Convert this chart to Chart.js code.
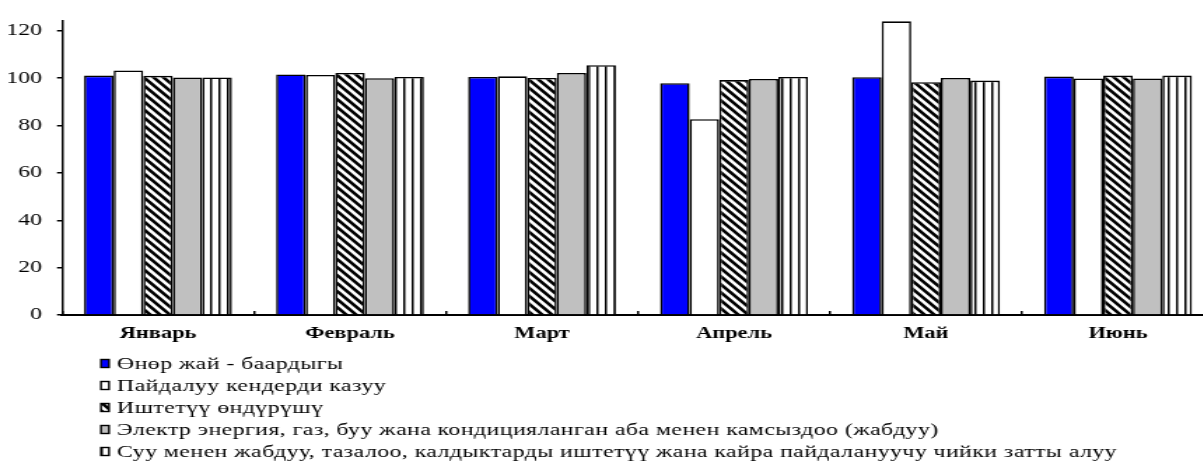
<!DOCTYPE html>
<html>
<head>
<meta charset="utf-8">
<script src="https://cdn.jsdelivr.net/npm/chart.js@4"></script>
<style>
  body { margin: 0; background: #fff; overflow: hidden; }
  #wrap { position: absolute; left: 0; top: 0; width: 870px; height: 464px;
          transform: scaleX(1.4); transform-origin: 0 0; }
</style>
</head>
<body>
<div id="wrap"><canvas id="chBar"></canvas></div>
<script>
// data
var months = ["Январь", "Февраль", "Март", "Апрель", "Май", "Июнь"];
var seriesNames = [
  "Өнөр жай - баардыгы",
  "Пайдалуу кендерди казуу",
  "Иштетүү өндүрүшү",
  "Электр энергия, газ, буу жана кондицияланган аба менен камсыздоо (жабдуу)",
  "Суу менен жабдуу, тазалоо, калдыктарды иштетүү жана кайра пайдалануучу чийки затты алуу"
];
var industryTotal = [101.1, 101.6, 100.5, 97.9, 100.4, 100.7];
var mining = [103.3, 101.4, 100.8, 82.7, 124.0, 99.9];
var manufacturing = [101.0, 102.2, 100.1, 99.2, 98.3, 101.1];
var electricity = [100.3, 100.0, 102.2, 99.7, 100.1, 99.9];
var water = [100.3, 100.5, 105.5, 100.5, 99.0, 101.1];
var yTicks = [0, 20, 40, 60, 80, 100, 120];

var SX = 1.4; // horizontal stretch of the whole picture
var serif = "'Liberation Serif', 'Times New Roman', serif";

// fill patterns
function hatchPattern() {
  var w = 7, h = 8;
  var c = document.createElement("canvas");
  c.width = w; c.height = h;
  var g = c.getContext("2d");
  g.fillStyle = "#fff"; g.fillRect(0, 0, w, h);
  g.strokeStyle = "#000"; g.lineWidth = 2.6;
  g.beginPath();
  g.moveTo(-w, -h); g.lineTo(2 * w, 2 * h);
  g.moveTo(-w, 0); g.lineTo(w, 2 * h);
  g.moveTo(0, -h); g.lineTo(2 * w, h);
  g.stroke();
  return g.createPattern(c, "repeat");
}
function stripePattern() {
  var c = document.createElement("canvas");
  c.width = 6; c.height = 4;
  var g = c.getContext("2d");
  g.fillStyle = "#fff"; g.fillRect(0, 0, 6, 4);
  g.fillStyle = "#000"; g.fillRect(0, 0, 1.5, 4);
  return g.createPattern(c, "repeat");
}

var fills = ["#0000ff", "#ffffff", hatchPattern(), "#c0c0c0", stripePattern()];
var values = [industryTotal, mining, manufacturing, electricity, water];

var datasets = values.map(function (v, i) {
  return {
    label: seriesNames[i],
    data: v,
    backgroundColor: fills[i],
    borderColor: "#000",
    borderWidth: 1.6
  };
});

// legend drawn as a plain list under the axis
var legendRows = [363.5, 385.5, 407.5, 429.5, 451.5];
var listLegend = {
  id: "listLegend",
  afterDraw: function (chart) {
    var ctx = chart.ctx;
    ctx.save();
    ctx.font = "17px " + serif;
    ctx.letterSpacing = "0.32px";
    ctx.textBaseline = "middle";
    chart.data.datasets.forEach(function (ds, i) {
      var cy = legendRows[i];
      var x = 101 / SX;
      ctx.fillStyle = ds.backgroundColor;
      ctx.fillRect(x, cy - 4, 8 / SX, 8);
      ctx.strokeStyle = "#000";
      ctx.lineWidth = 1.4;
      ctx.strokeRect(x, cy - 4, 8 / SX, 8);
      ctx.fillStyle = "#000";
      ctx.fillText(ds.label, 117 / SX, cy + 1);
    });
    ctx.restore();
  }
};

new Chart(document.getElementById("chBar"), {
  type: "bar",
  data: { labels: months, datasets: datasets },
  plugins: [listLegend],
  options: {
    responsive: true,
    maintainAspectRatio: false,
    animation: false,
    layout: { padding: { left: 0, right: 870 - 1214 / SX, top: 15, bottom: 109 } },
    datasets: { bar: { categoryPercentage: 0.77, barPercentage: 1.0 } },
    plugins: { legend: { display: false }, tooltip: { enabled: false } },
    scales: {
      x: {
        afterFit: function (s) { s.height = 40; },
        border: { color: "#000", width: 2 },
        grid: { drawOnChartArea: false, drawTicks: true, tickLength: -4, color: "#000", lineWidth: 1.5 },
        ticks: { color: "#000", padding: 13, font: { family: serif, size: 16, weight: "bold" } }
      },
      y: {
        min: 0,
        max: 124.2,
        afterFit: function (s) { s.width = 62 / SX; },
        afterBuildTicks: function (s) {
          s.ticks = yTicks.map(function (v) { return { value: v }; });
        },
        border: { color: "#000", width: 1.5 },
        grid: { drawOnChartArea: false, drawTicks: true, tickLength: 5 / SX, color: "#000", lineWidth: 1.5 },
        ticks: { color: "#000", padding: 10.7, font: { family: serif, size: 17 } }
      }
    }
  }
});
</script>
</body>
</html>
